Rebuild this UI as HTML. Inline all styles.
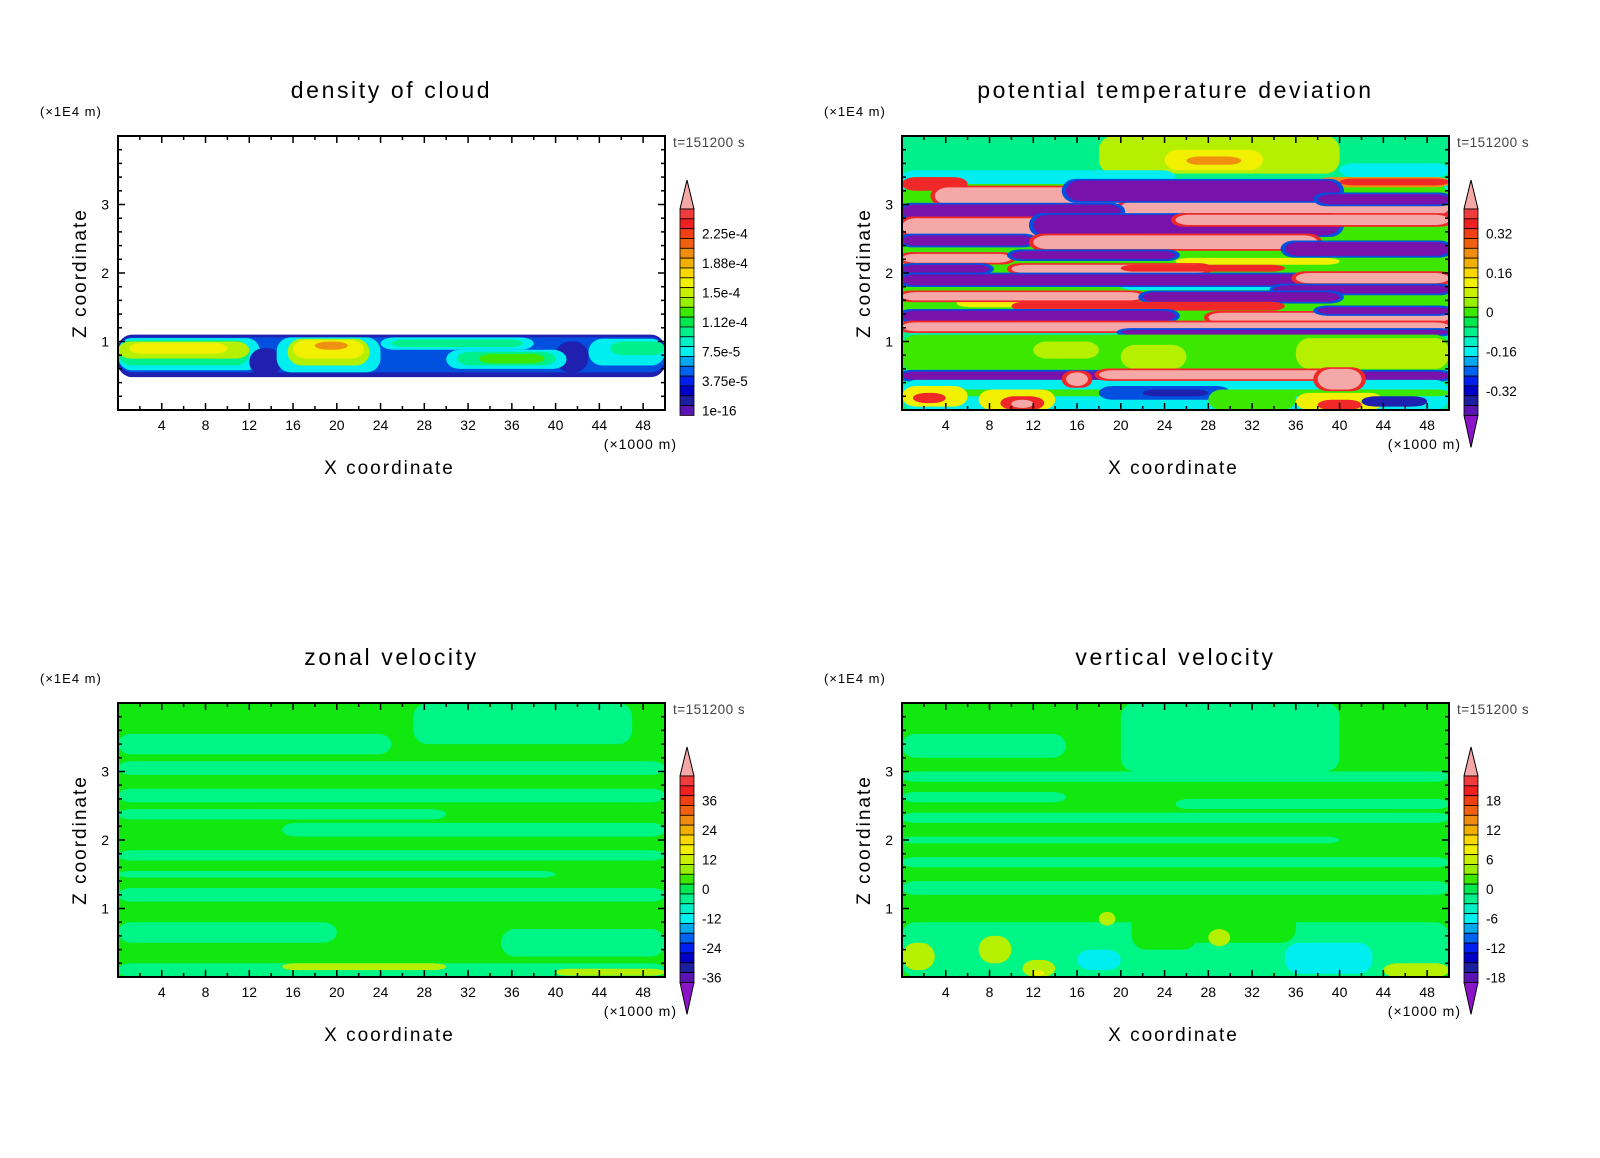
<!DOCTYPE html>
<html><head><meta charset="utf-8">
<style>
html,body{margin:0;padding:0;background:#fff;}
svg{display:block;font-family:"Liberation Sans","DejaVu Sans",sans-serif;}
</style></head>
<body>
<svg id="fig" width="1600" height="1158" viewBox="0 0 1600 1158" xmlns="http://www.w3.org/2000/svg">
<rect width="1600" height="1158" fill="#fff"/>
</svg>
<script>
// ---------- data ----------
const xTicks = [4,8,12,16,20,24,28,32,36,40,44,48];
const zTicks = [1,2,3];
const cloudLabels = ["2.25e-4","1.88e-4","1.5e-4","1.12e-4","7.5e-5","3.75e-5","1e-16"];
const thetaLabels = ["0.32","0.16","0","-0.16","-0.32"];
const uLabels = ["36","24","12","0","-12","-24","-36"];
const wLabels = ["18","12","6","0","-6","-12","-18"];
const palette = ['#f03c3c','#f02020','#f04010','#f06010','#f08c10','#f0b000','#f8d800','#f0f000','#c8f000','#96f000','#3ce800','#00e850','#00f08c','#00f0c8','#00f0f0','#00a8f0','#0064f0','#0020f0','#0000c8','#1e1ea0','#5a14b4'];
const colorMap = {P:'#f4a8a8',R:'#f02828',O:'#f09010',Y:'#f0f000',L:'#b4f000',G:'#3ce800',M:'#00f08c',C:'#00eef0',B:'#0050e0',D:'#2020b0',U:'#7812aa',V:'#10e810',N:'#00f587'};
// blobs: [color, x0, x1, z0, z1]
const cloudBlobs = [
 ['D',0,50,0.48,1.1],['B',0,50,0.55,1.06],
 ['C',0,13,0.58,1.05],['M',0,12,0.65,1.02],['L',0,12,0.75,1.0],['Y',1,10,0.82,0.98],
 ['D',12,15,0.5,0.9],['D',40,43,0.55,1.0],
 ['C',14.5,24,0.55,1.06],['L',15.5,23,0.65,1.04],['Y',16,22.5,0.75,1.02],['O',18,21,0.88,1.0],
 ['C',24,38,0.88,1.06],['M',25,37,0.92,1.03],
 ['C',30,41,0.6,0.88],['M',31,40,0.65,0.85],['G',33,39,0.68,0.82],
 ['C',43,50,0.65,1.04],['M',45,50,0.8,1.0]
];
const thetaBlobs = [
 ['M',0,50,3.3,4.0],['L',18,40,3.45,4.0],['C',0,25,3.3,3.5],['C',40,50,3.4,3.6],
 ['Y',24,33,3.5,3.8],['O',26,31,3.58,3.7],
 ['C',0,50,1.1,3.35],['G',0,50,1.12,3.3],['Y',5,20,1.5,1.62],['C',20,45,1.75,1.85],['Y',25,40,2.12,2.22],
 ['R',0,6,3.2,3.4],['O',38,50,3.25,3.4],['R',40,50,3.28,3.38],
 ['P',3,25,3.0,3.25],['P',20,50,2.85,3.05],['U',15,40,3.05,3.35],['U',38,50,3.0,3.15],
 ['U',0,20,2.8,3.0],['P',0,15,2.55,2.8],['U',12,40,2.55,2.85],['P',25,50,2.7,2.85],
 ['U',0,12,2.4,2.55],['P',12,38,2.35,2.55],['U',35,50,2.25,2.45],['P',0,10,2.15,2.28],
 ['U',10,25,2.2,2.32],['P',10,28,2.0,2.12],['U',0,8,2.0,2.12],['U',0,38,1.82,1.98],
 ['R',20,35,2.02,2.12],['P',36,50,1.85,2.0],['U',34,50,1.7,1.82],['P',0,22,1.6,1.72],
 ['U',22,40,1.58,1.72],['R',10,35,1.45,1.58],['U',0,25,1.3,1.45],['P',28,50,1.28,1.42],
 ['U',38,50,1.4,1.5],['P',0,50,1.15,1.28],['U',20,50,1.1,1.17],
 ['G',0,50,0.55,1.1],['L',12,18,0.75,1.0],['L',20,26,0.6,0.95],['L',36,50,0.6,1.05],
 ['U',0,50,0.44,0.56],['C',0,50,0,0.44],['G',0,50,0.2,0.3],
 ['B',18,30,0.15,0.35],['D',22,28,0.2,0.3],
 ['Y',0,6,0.05,0.35],['R',1,4,0.1,0.25],['Y',7,14,0.0,0.3],['R',9,13,0.0,0.2],['P',10,12,0.03,0.15],
 ['G',28,36,0,0.3],['Y',36,44,0.0,0.25],['R',38,42,0.0,0.15],['D',42,48,0.05,0.2],
 ['P',15,17,0.35,0.55],['P',18,40,0.45,0.58],['P',38,42,0.3,0.6]
];
const uBlobs = [
 ['N',27,47,3.4,4.0],['N',0,25,3.25,3.55],['N',0,50,2.95,3.15],['N',0,50,2.55,2.75],
 ['N',0,30,2.3,2.45],['N',15,50,2.05,2.25],['N',0,50,1.7,1.85],['N',0,40,1.45,1.55],
 ['N',0,50,1.1,1.3],['N',0,20,0.5,0.8],['N',35,50,0.3,0.7],['N',0,50,0,0.2],
 ['L',15,30,0.1,0.2],['L',40,50,0.02,0.12]
];
const wBlobs = [
 ['N',20,40,3.0,4.0],['N',0,15,3.2,3.55],['N',0,50,2.85,3.0],['N',0,15,2.55,2.7],
 ['N',25,50,2.45,2.6],['N',0,50,2.25,2.4],['N',0,40,1.95,2.05],['N',0,50,1.6,1.75],
 ['N',0,50,1.2,1.4],['N',0,50,0,0.8],['V',21,27,0.4,1.0],['V',25,36,0.5,1.1],
 ['L',7,10,0.2,0.6],['L',11,14,0,0.25],['Y',12,13,0.02,0.1],['C',16,20,0.1,0.4],
 ['L',18,19.5,0.75,0.95],['L',28,30,0.45,0.7],['C',35,43,0.05,0.5],['L',0,3,0.1,0.5],['L',44,50,0.0,0.2]
];
// ---------- drawing ----------
const NS='http://www.w3.org/2000/svg';
const svg=document.getElementById('fig');
function mk(tag,attrs,parent){const e=document.createElementNS(NS,tag);for(const k in attrs)e.setAttribute(k,attrs[k]);(parent||svg).appendChild(e);return e;}
const PW=547,PH=274,XMAX=50,ZMAX=4;
function panel(id,left,top,title,bg,blobs,labels,lowTri,halo){
 const g=mk('g',{});
 
 
 const X=v=>left+v/XMAX*PW, Z=v=>top+PH-v/ZMAX*PH;
 const cp=mk('clipPath',{id:'cp-'+id},g);mk('rect',{x:left,y:top,width:PW,height:PH},cp);
 const area=mk('g',{'clip-path':'url(#cp-'+id+')'},g);
 mk('rect',{x:left,y:top,width:PW,height:PH,fill:bg},area);
 blobs.forEach(b=>{
  const [c,x0,x1,z0,z1]=b;
  const draw=(col,dx,dz)=>{const y=Z(z1+dz),h=Z(z0-dz)-y;const r=mk('rect',{x:X(x0-dx),y:y,width:X(x1+dx)-X(x0-dx),height:h,rx:Math.min(14,(X(x1)-X(x0))/2),ry:Math.min(h/2,14),fill:colorMap[col]},area);
   
   };
  if(halo&&c==='P')draw('R',0.4,0.025);
  if(halo&&c==='U')draw('B',0.4,0.025);
  draw(c,0,0);
 });
 mk('rect',{x:left,y:top,width:PW,height:PH,fill:'none',stroke:'#000','stroke-width':2},g);
 for(let v=2;v<XMAX;v+=2){const L=(v%4===0)?7:4;
  mk('line',{x1:X(v),x2:X(v),y1:top+PH,y2:top+PH-L,stroke:'#000','stroke-width':1.5},g);
  mk('line',{x1:X(v),x2:X(v),y1:top,y2:top+L,stroke:'#000','stroke-width':1.5},g);}
 for(let v=0.2;v<ZMAX;v+=0.2){const maj=Math.abs(v-Math.round(v))<0.01;const L=maj?7:4;
  mk('line',{x1:left,x2:left+L,y1:Z(v),y2:Z(v),stroke:'#000','stroke-width':1.5},g);
  mk('line',{x1:left+PW,x2:left+PW-L,y1:Z(v),y2:Z(v),stroke:'#000','stroke-width':1.5},g);}
 xTicks.forEach(v=>{const t=mk('text',{x:X(v),y:top+PH+20,'font-size':14,'text-anchor':'middle'},g);t.textContent=v;
  });
 zTicks.forEach(v=>{const t=mk('text',{x:left-9,y:Z(v)+5,'font-size':14,'text-anchor':'end'},g);t.textContent=v;
  });
 const tt=mk('text',{x:left+PW/2,y:top-38,'font-size':23,'text-anchor':'middle','letter-spacing':'2.6'},g);tt.textContent=title;
 
 const u=mk('text',{x:left-78,y:top-20,'font-size':13,'letter-spacing':'1'},g);u.textContent='(×1E4 m)';
 
 const tm=mk('text',{x:left+PW+8,y:top+11,'font-size':13.5,fill:'#444','letter-spacing':'0.5'},g);tm.textContent='t=151200 s';
 
 const xu=mk('text',{x:left+PW+12,y:top+PH+39,'font-size':14,'text-anchor':'end','letter-spacing':'1'},g);xu.textContent='(×1000 m)';
 
 const xt=mk('text',{x:left+PW/2-2,y:top+PH+64,'font-size':19,'text-anchor':'middle','letter-spacing':'2'},g);xt.textContent='X coordinate';
 
 const yt=mk('text',{x:0,y:0,'font-size':19,'text-anchor':'middle','letter-spacing':'2',transform:`translate(${left-32},${top+PH/2}) rotate(-90)`},g);yt.textContent='Z coordinate';
 
 // colorbar
 const cb=mk('g',{},g);
 
 const cx=left+PW+15,cw=14,bh=9.83,btop=top+73,n=palette.length;
 mk('polygon',{points:`${cx},${btop} ${cx+cw},${btop} ${cx+cw/2},${top+44}`,fill:'#f4a8a8',stroke:'#000','stroke-width':1},cb);
 palette.forEach((c,i)=>{mk('rect',{x:cx,y:btop+i*bh,width:cw,height:bh,fill:c,stroke:'#000','stroke-width':0.8},cb);});
 const bbot=btop+n*bh;
 if(lowTri)mk('polygon',{points:`${cx},${bbot} ${cx+cw},${bbot} ${cx+cw/2},${bbot+32}`,fill:'#8c14c8',stroke:'#000','stroke-width':1},cb);
 const step=(labels.length===5)?4:3, first=2.5;
 labels.forEach((s,i)=>{const y=btop+(first+i*step)*bh;
  const t=mk('text',{x:cx+cw+8,y:y+5,'font-size':13.5},cb);t.textContent=s;
  });
}
panel('cloud-density',118,136,'density of cloud','#fff',cloudBlobs,cloudLabels,false,false);
panel('potential-temperature',902,136,'potential temperature deviation','#00f08c',thetaBlobs,thetaLabels,true,true);
panel('zonal-velocity',118,703,'zonal velocity','#10e810',uBlobs,uLabels,true,false);
panel('vertical-velocity',902,703,'vertical velocity','#10e810',wBlobs,wLabels,true,false);
</script>
</body></html>
